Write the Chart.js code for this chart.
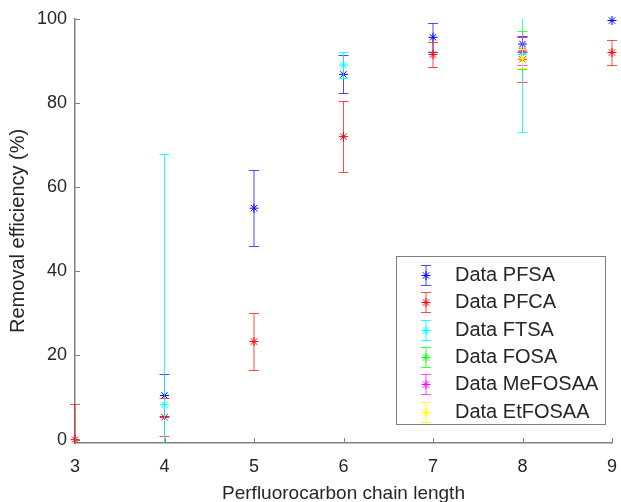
<!DOCTYPE html>
<html>
<head>
<meta charset="utf-8">
<script src="https://cdn.jsdelivr.net/npm/chart.js@4.4.1/dist/chart.umd.min.js"></script>
<style>
  html, body { margin: 0; padding: 0; background: #fff; }
  #wrap { position: relative; width: 621px; height: 502px; }
</style>
</head>
<body>
<div id="wrap"><canvas id="chart"></canvas></div>
<script>
// removal efficiency (%) with +/- error, per chain length
const pfsaX = [4, 5, 6, 7, 8, 9];
const pfsaY = [10.5, 55, 86.8, 95.6, 94, 99.6];
const pfsaErr = [5, 9, 4.5, 3.5, 2, 0];

const pfcaX = [3, 4, 5, 6, 7, 8, 9];
const pfcaY = [0, 5.3, 23.3, 72, 91.5, 90.4, 92];
const pfcaErr = [8.5, 4.5, 6.8, 8.5, 3, 5.3, 3];

const ftsaX = [4, 6, 8];
const ftsaY = [8.3, 89, 91.5];
const ftsaErr = [59.5, 3, 18.4];

const fosaX = [8];
const fosaY = [92.6];
const fosaErr = [4.6];

const mefosaaX = [8];
const mefosaaY = [92.3];
const mefosaaErr = [3.3];

const etfosaaX = [8];
const etfosaaY = [90.6];
const etfosaaErr = [2.2];

const xTicks = [3, 4, 5, 6, 7, 8, 9];
const yTicks = [0, 20, 40, 60, 80, 100];

const FONT = "'Liberation Sans', Arial, sans-serif";
const TEXT = '#262626';
const AXIS = '#808080';

function series(label, xs, ys, errs, color, barColor, order) {
  return {
    label,
    data: xs.map((x, i) => ({ x, y: ys[i] })),
    errors: errs,
    barColor,
    order,
    pointStyle: 'star',
    pointRadius: 4.5,
    pointHoverRadius: 4.5,
    borderColor: color,
    backgroundColor: color,
    borderWidth: 1,
    showLine: false,
    clip: false,
  };
}

// vertical error bars with caps, drawn just before each dataset's markers
const errorBars = {
  id: 'errorBars',
  beforeDatasetDraw(chart, args) {
    const ds = chart.data.datasets[args.index];
    const { ctx, chartArea: a, scales: { x, y } } = chart;
    ctx.save();
    ctx.beginPath();
    ctx.rect(0, a.top, chart.width, a.bottom - a.top);
    ctx.clip();
    ctx.strokeStyle = ds.barColor;
    ctx.lineWidth = 1;
    ds.data.forEach((p, i) => {
      const e = ds.errors[i];
      if (!e) return;
      const px = x.getPixelForValue(p.x);
      const hi = Math.round(y.getPixelForValue(p.y + e)) + 0.5;
      const lo = Math.round(y.getPixelForValue(p.y - e)) + 0.5;
      ctx.beginPath();
      ctx.moveTo(px, hi); ctx.lineTo(px, lo);
      ctx.moveTo(px - 5, hi); ctx.lineTo(px + 5, hi);
      ctx.moveTo(px - 5, lo); ctx.lineTo(px + 5, lo);
      ctx.stroke();
    });
    ctx.restore();
  },
};

// inward tick marks (MATLAB style) + legend box inside the axes
const axesExtras = {
  id: 'axesExtras',
  afterDraw(chart) {
    const { ctx, chartArea: a, scales: { x, y } } = chart;
    ctx.save();
    ctx.strokeStyle = AXIS;
    ctx.lineWidth = 1;
    ctx.beginPath();
    yTicks.forEach((v) => {
      const py = Math.round(y.getPixelForValue(v)) + 0.5;
      ctx.moveTo(a.left, py); ctx.lineTo(a.left + 5, py);
    });
    xTicks.forEach((v) => {
      const px = Math.round(x.getPixelForValue(v)) + 0.5;
      ctx.moveTo(px, a.bottom); ctx.lineTo(px, a.bottom - 5);
    });
    ctx.stroke();

    // legend
    const box = { left: 396.5, top: 256.5, width: 209, height: 168 };
    ctx.fillStyle = '#fff';
    ctx.fillRect(box.left, box.top, box.width, box.height);
    ctx.strokeStyle = '#7f7f7f';
    ctx.strokeRect(box.left, box.top, box.width, box.height);

    ctx.font = '20px ' + FONT;
    ctx.textBaseline = 'middle';
    ctx.textAlign = 'left';
    chart.data.datasets.forEach((ds, i) => {
      const cy = Math.round(box.top + 18.5 + i * 27.3) + 0.5;
      const mx = 426;
      ctx.strokeStyle = ds.barColor;
      ctx.beginPath();
      ctx.moveTo(mx, cy - 10); ctx.lineTo(mx, cy + 10);
      ctx.moveTo(mx - 5, cy - 10); ctx.lineTo(mx + 5, cy - 10);
      ctx.moveTo(mx - 5, cy + 10); ctx.lineTo(mx + 5, cy + 10);
      ctx.stroke();
      ctx.strokeStyle = ds.borderColor;
      Chart.helpers.drawPoint(ctx, { pointStyle: 'star', radius: 4.5, borderWidth: 1 }, mx, cy);
      ctx.fillStyle = TEXT;
      ctx.fillText(ds.label, 455, cy);
    });
    ctx.restore();
  },
};

new Chart(document.getElementById('chart'), {
  type: 'scatter',
  data: {
    datasets: [
      series('Data PFSA', pfsaX, pfsaY, pfsaErr, '#0000ff', 'rgba(0,0,255,0.7)', 6),
      series('Data PFCA', pfcaX, pfcaY, pfcaErr, '#ff0000', 'rgba(255,0,0,0.7)', 5),
      series('Data FTSA', ftsaX, ftsaY, ftsaErr, '#00ffff', 'rgba(0,255,255,0.85)', 4),
      series('Data FOSA', fosaX, fosaY, fosaErr, '#00ff00', 'rgba(0,255,0,0.75)', 3),
      series('Data MeFOSAA', mefosaaX, mefosaaY, mefosaaErr, '#ff00ff', 'rgba(255,0,255,0.7)', 2),
      series('Data EtFOSAA', etfosaaX, etfosaaY, etfosaaErr, '#ffff00', 'rgba(255,255,0,0.85)', 1),
    ],
  },
  options: {
    responsive: true,
    maintainAspectRatio: false,
    animation: false,
    layout: { padding: { left: 0, right: 9, top: 16, bottom: 0 } },
    plugins: {
      legend: { display: false },
      tooltip: { enabled: false },
    },
    scales: {
      x: {
        type: 'linear',
        position: 'bottom',
        min: 3,
        max: 9,
        afterBuildTicks: (s) => { s.ticks = xTicks.map((v) => ({ value: v })); },
        afterFit: (s) => {
          s.height = 59;
          s.paddingLeft = 0;
          s.paddingRight = 0;
        },
        grid: { display: false, drawTicks: false },
        border: { display: true, color: AXIS, width: 1.5 },
        ticks: { color: TEXT, padding: 13, maxRotation: 0, font: { family: FONT, size: 18 } },
        title: {
          display: true,
          text: 'Perfluorocarbon chain length',
          color: TEXT,
          padding: { top: 0, bottom: -3 },
          font: { family: FONT, size: 19 },
        },
      },
      y: {
        type: 'linear',
        min: -0.8,
        max: 100,
        afterBuildTicks: (s) => { s.ticks = yTicks.map((v) => ({ value: v })); },
        afterFit: (s) => { s.width = 75; },
        grid: { display: false, drawTicks: false },
        border: { display: true, color: AXIS, width: 1.5 },
        ticks: { color: TEXT, padding: 8, font: { family: FONT, size: 18 } },
        title: {
          display: true,
          text: 'Removal efficiency (%)',
          color: TEXT,
          padding: { top: 6, bottom: 0 },
          font: { family: FONT, size: 20 },
        },
      },
    },
  },
  plugins: [errorBars, axesExtras],
});
</script>
</body>
</html>
